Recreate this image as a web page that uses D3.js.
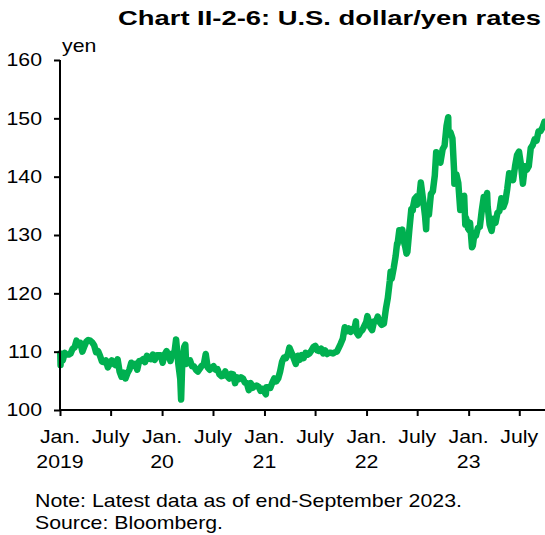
<!DOCTYPE html>
<html>
<head>
<meta charset="utf-8">
<script src="https://cdn.jsdelivr.net/npm/d3@7"></script>
<style>
  body { margin: 0; background: #fff; }
  svg { display: block; font-family: Arial, "Liberation Sans", sans-serif; }
</style>
</head>
<body>
<svg id="chart" width="545" height="535"></svg>
<script>
// ── Data: weekly USD/JPY closes ───────────────────────────────────────────
const dates = [
  "2019-01-02","2019-01-03","2019-01-04","2019-01-11","2019-01-18","2019-01-25",
  "2019-02-01","2019-02-08","2019-02-15","2019-02-22","2019-03-01","2019-03-08",
  "2019-03-15","2019-03-22","2019-03-29","2019-04-05","2019-04-12","2019-04-19",
  "2019-04-26","2019-05-03","2019-05-10","2019-05-17","2019-05-24","2019-05-31",
  "2019-06-07","2019-06-14","2019-06-21","2019-06-28","2019-07-05","2019-07-12",
  "2019-07-19","2019-07-26","2019-08-02","2019-08-09","2019-08-16","2019-08-23",
  "2019-08-30","2019-09-06","2019-09-13","2019-09-20","2019-09-27","2019-10-04",
  "2019-10-11","2019-10-18","2019-10-25","2019-11-01","2019-11-08","2019-11-15",
  "2019-11-22","2019-11-29","2019-12-06","2019-12-13","2019-12-20","2019-12-27",
  "2020-01-03","2020-01-10","2020-01-17","2020-01-24","2020-01-31","2020-02-07",
  "2020-02-14","2020-02-20","2020-02-28","2020-03-06","2020-03-09","2020-03-13",
  "2020-03-20","2020-03-24","2020-03-27","2020-04-03","2020-04-10","2020-04-17",
  "2020-04-24","2020-05-01","2020-05-08","2020-05-15","2020-05-22","2020-05-29",
  "2020-06-05","2020-06-12","2020-06-19","2020-06-26","2020-07-03","2020-07-10",
  "2020-07-17","2020-07-24","2020-07-31","2020-08-07","2020-08-14","2020-08-21",
  "2020-08-28","2020-09-04","2020-09-11","2020-09-18","2020-09-25","2020-10-02",
  "2020-10-09","2020-10-16","2020-10-23","2020-10-30","2020-11-06","2020-11-13",
  "2020-11-20","2020-11-27","2020-12-04","2020-12-11","2020-12-18","2020-12-25",
  "2021-01-06","2021-01-08","2021-01-15","2021-01-22","2021-01-29","2021-02-05",
  "2021-02-12","2021-02-19","2021-02-26","2021-03-05","2021-03-12","2021-03-19",
  "2021-03-26","2021-03-31","2021-04-09","2021-04-16","2021-04-23","2021-04-30",
  "2021-05-07","2021-05-14","2021-05-21","2021-05-28","2021-06-04","2021-06-11",
  "2021-06-18","2021-06-25","2021-07-02","2021-07-09","2021-07-16","2021-07-23",
  "2021-07-30","2021-08-06","2021-08-13","2021-08-20","2021-08-27","2021-09-03",
  "2021-09-10","2021-09-17","2021-09-24","2021-09-30","2021-10-08","2021-10-15",
  "2021-10-22","2021-10-29","2021-11-05","2021-11-12","2021-11-19","2021-11-24",
  "2021-11-26","2021-12-03","2021-12-10","2021-12-17","2021-12-24","2021-12-31",
  "2022-01-04","2022-01-07","2022-01-14","2022-01-21","2022-01-28","2022-02-04",
  "2022-02-10","2022-02-18","2022-02-24","2022-03-04","2022-03-11","2022-03-18",
  "2022-03-25","2022-03-28","2022-04-01","2022-04-08","2022-04-15","2022-04-20",
  "2022-04-22","2022-04-28","2022-05-06","2022-05-09","2022-05-13","2022-05-20",
  "2022-05-24","2022-05-27","2022-06-03","2022-06-10","2022-06-15","2022-06-17",
  "2022-06-22","2022-06-29","2022-07-01","2022-07-08","2022-07-14","2022-07-22",
  "2022-07-29","2022-08-02","2022-08-05","2022-08-12","2022-08-19","2022-08-26",
  "2022-09-02","2022-09-07","2022-09-09","2022-09-16","2022-09-22","2022-09-30",
  "2022-10-07","2022-10-14","2022-10-20","2022-10-21","2022-10-28","2022-11-04",
  "2022-11-10","2022-11-11","2022-11-18","2022-11-25","2022-12-02","2022-12-09",
  "2022-12-16","2022-12-20","2022-12-23","2022-12-30",
  "2023-01-03","2023-01-06","2023-01-13","2023-01-16","2023-01-20","2023-01-27",
  "2023-02-03","2023-02-10","2023-02-17","2023-02-24","2023-03-03","2023-03-08",
  "2023-03-10","2023-03-17","2023-03-24","2023-03-31","2023-04-07","2023-04-14",
  "2023-04-21","2023-04-28","2023-05-05","2023-05-12","2023-05-19","2023-05-26",
  "2023-06-02","2023-06-09","2023-06-16","2023-06-23","2023-06-30","2023-07-07",
  "2023-07-14","2023-07-21","2023-07-28","2023-08-04","2023-08-11","2023-08-18",
  "2023-08-25","2023-09-01","2023-09-08","2023-09-15","2023-09-22","2023-09-29",
];

const yen = [
  109.7,107.7,108.5,108.5,109.8,109.5,
  109.5,109.7,110.5,110.7,111.9,111.2,
  111.5,110.0,110.9,111.7,112.0,111.9,
  111.6,111.1,109.9,110.1,109.3,108.3,
  108.2,108.5,107.3,107.9,108.5,107.9,
  107.7,108.7,106.6,105.7,106.4,105.4,
  106.3,106.9,108.1,107.6,107.9,106.9,
  108.4,108.4,108.7,108.2,109.3,108.8,
  108.7,109.5,108.6,109.4,109.4,109.4,
  108.1,109.5,110.1,109.3,108.4,109.7,
  109.8,112.1,107.9,105.3,101.8,108.0,
  110.8,111.2,107.9,108.4,108.5,107.5,
  107.5,106.9,106.6,107.1,107.6,107.8,
  109.6,107.3,106.9,107.2,107.5,106.9,
  107.0,106.1,105.8,105.9,106.6,105.8,
  105.4,106.2,106.1,104.6,105.6,105.3,
  105.6,105.4,104.7,104.6,103.4,104.6,
  103.8,104.1,104.2,104.0,103.3,103.6,
  102.7,103.9,103.9,103.8,104.7,105.4,
  104.9,105.4,106.6,108.3,109.0,108.9,
  109.6,110.7,109.7,108.8,107.9,109.3,
  108.6,109.4,108.9,109.8,109.5,109.7,
  110.2,110.8,111.0,110.2,110.1,110.5,
  109.7,110.2,109.6,109.8,109.8,109.7,
  109.9,110.0,110.7,111.3,112.2,114.2,
  113.5,114.0,113.4,113.9,114.0,115.2,
  113.3,112.8,113.4,113.7,114.4,115.1,
  116.1,115.6,114.2,113.7,115.2,115.2,
  116.0,115.0,114.6,114.8,117.3,119.2,
  122.1,123.7,122.5,124.3,126.4,128.5,
  128.5,130.8,130.6,130.9,129.2,127.8,
  126.8,127.1,130.9,134.4,134.2,135.0,
  136.2,136.6,135.2,136.1,139.0,136.1,
  133.3,131.0,135.0,133.5,137.0,137.5,
  140.2,144.2,142.6,142.9,142.4,144.7,
  145.3,148.7,150.2,147.6,147.6,146.6,
  141.0,138.8,140.4,138.9,134.3,136.6,
  136.7,131.8,132.9,131.1,
  130.8,132.1,127.9,128.2,129.6,129.9,
  131.2,131.4,134.2,136.5,135.8,137.2,
  134.9,131.8,130.7,132.8,132.1,133.8,
  134.1,136.3,134.8,135.7,137.9,140.6,
  139.9,139.4,141.8,143.7,144.3,142.1,
  138.8,141.8,141.2,141.8,144.9,145.4,
  146.4,146.2,147.8,147.8,148.4,149.4,
];

const xTickDates = ["2019-01-01","2019-07-01","2020-01-01","2020-07-01","2021-01-01",
  "2021-07-01","2022-01-01","2022-07-01","2023-01-01","2023-07-01"];
const xTickMonth = ["Jan.","July","Jan.","July","Jan.","July","Jan.","July","Jan.","July"];
const xTickYear = ["2019","","20","","21","","22","","23",""];
const yTicks = [100, 110, 120, 130, 140, 150, 160];

// ── Layout ────────────────────────────────────────────────────────────────
const margin = { left: 60, right: 0, top: 60, bottom: 125 };
const W = 545, H = 535;
const FS = 18.5;      // label font size
const WIDEN = 1.15;   // the source text is drawn slightly wider than Arial
const parse = d3.utcParse("%Y-%m-%d");

const svg = d3.select("#chart");

// stretch text horizontally so it matches the reference glyph widths
function widen(sel, k = WIDEN) {
  sel.each(function () {
    const len = this.getComputedTextLength();
    d3.select(this)
      .attr("textLength", len * k)
      .attr("lengthAdjust", "spacingAndGlyphs");
  });
}

const x = d3.scaleUtc()
  .domain([parse("2019-01-01"), parse("2023-10-01")])
  .range([margin.left, W - margin.right]);

const y = d3.scaleLinear()
  .domain([100, 160])
  .range([H - margin.bottom, margin.top]);

const series = dates.map((d, i) => ({ date: parse(d), value: yen[i] }));

// ── Line ──────────────────────────────────────────────────────────────────
svg.append("path")
  .datum(series)
  .attr("fill", "none")
  .attr("stroke", "#00b050")
  .attr("stroke-width", 6.5)
  .attr("stroke-linejoin", "round")
  .attr("stroke-linecap", "round")
  .attr("d", d3.line().x((d) => x(d.date)).y((d) => y(d.value)));

// ── Axes ──────────────────────────────────────────────────────────────────
const yAxis = svg.append("g")
  .attr("transform", `translate(${margin.left},0)`)
  .call(d3.axisLeft(y).tickValues(yTicks).tickSize(6).tickPadding(12).tickFormat(d3.format("d")));

const xAxis = svg.append("g")
  .attr("transform", `translate(0,${H - margin.bottom})`)
  .call(d3.axisBottom(x).tickValues(xTickDates.map(parse)).tickSize(6).tickFormat(() => ""));

[yAxis, xAxis].forEach((g) => {
  g.select(".domain").attr("stroke", "#000").attr("stroke-width", 2);
  g.selectAll(".tick line").attr("stroke", "#000").attr("stroke-width", 2);
});
xAxis.select(".domain").attr("d", `M${margin.left},0H${W}`);
yAxis.select(".domain").attr("d", `M0,${y(160)}V${y(100)}`);
yAxis.selectAll(".tick text")
  .attr("fill", "#000")
  .attr("font-size", FS)
  .attr("font-family", null)
  .call(widen);

// two-line x labels
const xl = svg.append("g").attr("font-size", FS).attr("text-anchor", "middle");
xTickDates.forEach((d, i) => {
  const px = x(parse(d));
  xl.append("text").attr("x", px).attr("y", 443).text(xTickMonth[i]);
  if (xTickYear[i]) xl.append("text").attr("x", px).attr("y", 468).text(xTickYear[i]);
});
xl.selectAll("text").call(widen);

svg.append("text")
  .attr("x", 62).attr("y", 52)
  .attr("font-size", FS)
  .text("yen")
  .call(widen);

// ── Title and notes ───────────────────────────────────────────────────────
svg.append("text")
  .attr("x", 541).attr("y", 25)
  .attr("text-anchor", "end")
  .attr("font-size", 21)
  .attr("font-weight", "bold")
  .attr("textLength", 423)
  .attr("lengthAdjust", "spacingAndGlyphs")
  .text("Chart II-2-6: U.S. dollar/yen rates");

svg.append("text").attr("x", 35).attr("y", 507).attr("font-size", FS)
  .text("Note: Latest data as of end-September 2023.")
  .attr("textLength", 427).attr("lengthAdjust", "spacingAndGlyphs");
svg.append("text").attr("x", 35).attr("y", 529).attr("font-size", FS)
  .text("Source: Bloomberg.")
  .attr("textLength", 188).attr("lengthAdjust", "spacingAndGlyphs");
</script>
</body>
</html>
